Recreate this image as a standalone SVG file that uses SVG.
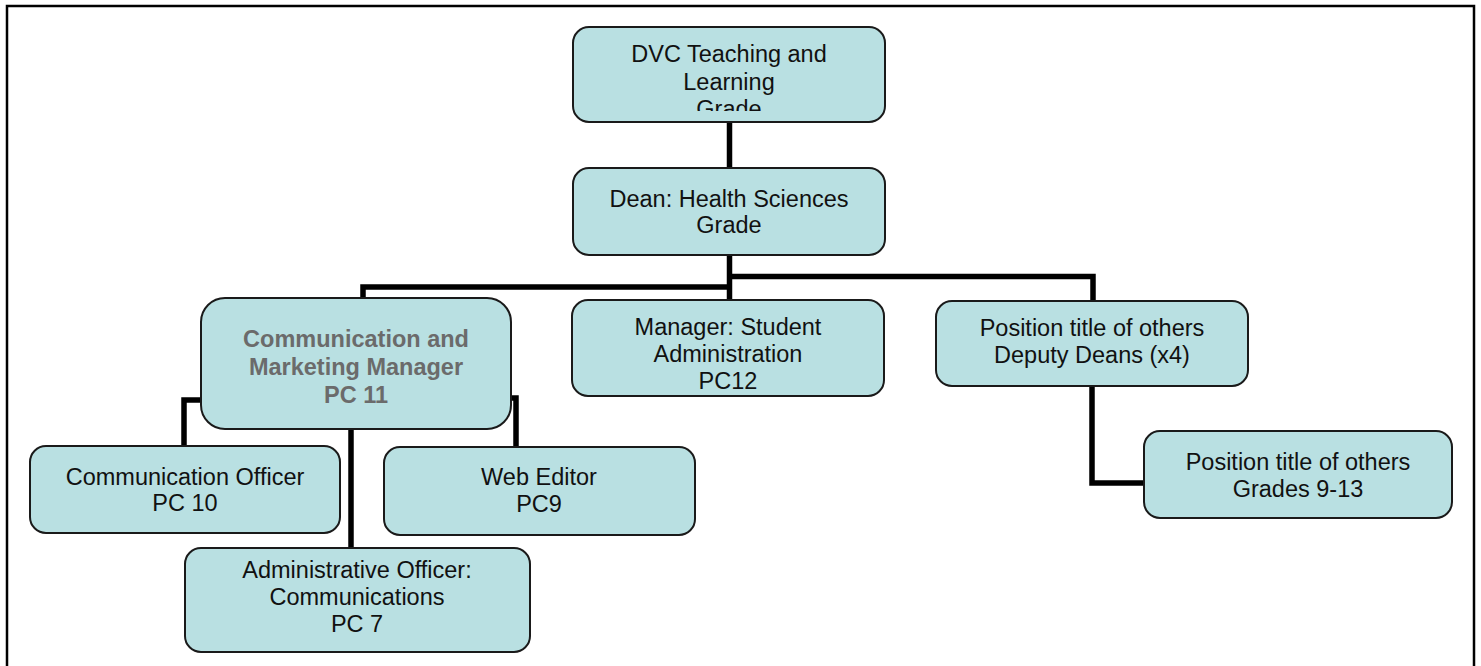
<svg xmlns="http://www.w3.org/2000/svg" width="1481" height="666" viewBox="0 0 1481 666">
<style>
.box{fill:#b9e0e2;stroke:#1a1a1a;stroke-width:2}
.t{font-family:"Liberation Sans",Arial,sans-serif;font-size:23.5px;fill:#111;text-anchor:middle}
.b{font-weight:bold;fill:#6b6b6b}
.c{fill:none;stroke:#000;stroke-width:5.5}
</style>
<defs>
<clipPath id="clipDvc"><rect x="573" y="27" width="312" height="84"/></clipPath>
</defs>
<rect width="1481" height="666" fill="#fff"/>
<path d="M7,666 V6 H1474 V666" fill="none" stroke="#000" stroke-width="2.5"/>
<g id="connectors">
<path class="c" d="M729.5,122 V168"/>
<path class="c" d="M729.5,255 V300"/>
<path class="c" d="M729.5,287 H363 V298"/>
<path class="c" d="M729.5,276.5 H1093 V301"/>
<path class="c" d="M201,400 H184 V446"/>
<path class="c" d="M511,398 H516 V447"/>
<path class="c" d="M351,429 V548"/>
<path class="c" d="M1092,386 V483 H1144"/>
</g>
<g id="dvc">
<rect class="box" x="573" y="27" width="312" height="95" rx="16"/>
<g clip-path="url(#clipDvc)">
<text class="t" x="729" y="62">DVC Teaching and</text>
<text class="t" x="729" y="90">Learning</text>
<text class="t" x="729" y="117">Grade</text>
</g>
</g>
<g id="dean">
<rect class="box" x="573" y="168" width="312" height="87" rx="16"/>
<text class="t" x="729" y="207">Dean: Health Sciences</text>
<text class="t" x="729" y="233">Grade</text>
</g>
<g id="commMgr">
<rect class="box" x="201" y="298" width="310" height="131" rx="24"/>
<text class="t b" x="356" y="347">Communication and</text>
<text class="t b" x="356" y="375">Marketing Manager</text>
<text class="t b" x="356" y="403">PC 11</text>
</g>
<g id="studentAdmin">
<rect class="box" x="572" y="300" width="312" height="96" rx="16"/>
<text class="t" x="728" y="335">Manager: Student</text>
<text class="t" x="728" y="362">Administration</text>
<text class="t" x="728" y="389">PC12</text>
</g>
<g id="deputyDeans">
<rect class="box" x="936" y="301" width="312" height="85" rx="16"/>
<text class="t" x="1092" y="336">Position title of others</text>
<text class="t" x="1092" y="363">Deputy Deans (x4)</text>
</g>
<g id="grades">
<rect class="box" x="1144" y="431" width="308" height="87" rx="16"/>
<text class="t" x="1298" y="470">Position title of others</text>
<text class="t" x="1298" y="497">Grades 9-13</text>
</g>
<g id="commOfficer">
<rect class="box" x="30" y="446" width="310" height="87" rx="16"/>
<text class="t" x="185" y="485">Communication Officer</text>
<text class="t" x="185" y="511">PC 10</text>
</g>
<g id="webEditor">
<rect class="box" x="384" y="447" width="311" height="88" rx="16"/>
<text class="t" x="539" y="485">Web Editor</text>
<text class="t" x="539" y="512">PC9</text>
</g>
<g id="adminOfficer">
<rect class="box" x="185" y="548" width="345" height="104" rx="16"/>
<text class="t" x="357" y="578">Administrative Officer:</text>
<text class="t" x="357" y="605">Communications</text>
<text class="t" x="357" y="632">PC 7</text>
</g>
</svg>
